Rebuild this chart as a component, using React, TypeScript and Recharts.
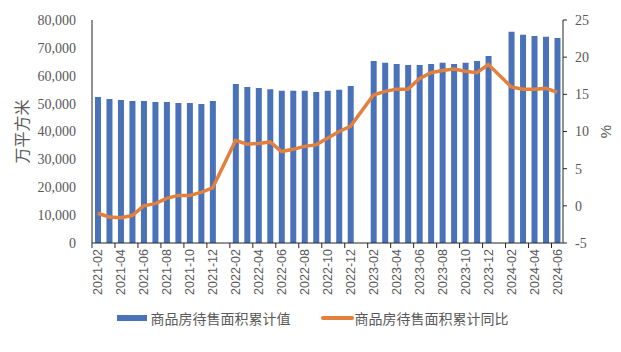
import { Bar, ComposedChart, Legend, Line, XAxis, YAxis } from 'recharts'

const MONTHS = [
  '2021-02', '2021-03', '2021-04', '2021-05', '2021-06', '2021-07', '2021-08', '2021-09', '2021-10', '2021-11', '2021-12',
  '2022-01', '2022-02', '2022-03', '2022-04', '2022-05', '2022-06', '2022-07', '2022-08', '2022-09', '2022-10', '2022-11', '2022-12',
  '2023-01', '2023-02', '2023-03', '2023-04', '2023-05', '2023-06', '2023-07', '2023-08', '2023-09', '2023-10', '2023-11', '2023-12',
  '2024-01', '2024-02', '2024-03', '2024-04', '2024-05', '2024-06',
]

// 商品房待售面积累计值（万平方米），1月无数据
const STOCK = [
  52400, 51700, 51300, 50900, 50900, 50600, 50600, 50200, 50200, 49900, 50900,
  null, 57000, 56000, 55600, 55200, 54600, 54600, 54600, 54200, 54600, 55000, 56300,
  null, 65300, 64700, 64200, 63900, 63900, 64200, 64700, 64200, 64700, 65300, 67100,
  null, 75800, 74700, 74300, 74000, 73500,
]

// 商品房待售面积累计同比（%）
const YOY = [
  -1.0, -1.5, -1.6, -1.3, 0.0, 0.3, 1.0, 1.4, 1.4, 1.8, 2.4,
  null, 8.8, 8.3, 8.4, 8.6, 7.3, 7.6, 8.0, 8.2, 9.1, 10.0, 10.7,
  null, 14.9, 15.4, 15.7, 15.7, 17.1, 17.9, 18.2, 18.4, 18.1, 17.9, 19.0,
  null, 16.0, 15.7, 15.7, 15.8, 15.3,
]

const LEFT_TICKS = [0, 10000, 20000, 30000, 40000, 50000, 60000, 70000, 80000]
const RIGHT_TICKS = [-5, 0, 5, 10, 15, 20, 25]

const data = MONTHS.map((m, i) => ({ month: m, stock: STOCK[i], yoy: YOY[i] }))

const BLUE = '#4A72B8'
const ORANGE = '#E2803D'
const TEXT = '#595959'
const AXIS = '#262626'
const HALF_BAND = 5.75

function MonthTick(props: any) {
  const { x, y, payload } = props
  return (
    <g transform={`translate(${x},${y})`}>
      <line x1={-HALF_BAND} y1={0} x2={-HALF_BAND} y2={5} stroke={AXIS} strokeWidth={1} />
      <text
        transform="rotate(-90)"
        x={-6}
        y={0}
        dy={4.5}
        textAnchor="end"
        fill={TEXT}
        fontSize={12.5}
        fontFamily="'Liberation Sans', Arial, sans-serif"
      >
        {payload.value}
      </text>
    </g>
  )
}

function ChartLegend() {
  const font = { fontSize: 14, color: TEXT, fontFamily: "'Noto Sans CJK SC', sans-serif" }
  return (
    <div style={{ display: 'flex', justifyContent: 'center', alignItems: 'center', paddingLeft: 4, ...font }}>
      <span style={{ display: 'inline-block', width: 30, height: 6, background: BLUE, marginRight: 4 }} />
      <span>商品房待售面积累计值</span>
      <span style={{ display: 'inline-block', width: 33, height: 4, background: ORANGE, borderRadius: 2, marginLeft: 30, marginRight: 1 }} />
      <span>商品房待售面积累计同比</span>
    </div>
  )
}

export default function App() {
  return (
    <ComposedChart
      width={605}
      height={336}
      data={data}
      margin={{ top: 12, right: 0, bottom: 6, left: 0 }}
      barCategoryGap="26%"
    >
      <XAxis
        dataKey="month"
        interval={1}
        tickLine={false}
        tickSize={0}
        tickMargin={0}
        tick={<MonthTick />}
        stroke={AXIS}
        height={65}
      />
      <YAxis
        yAxisId="left"
        domain={[0, 80000]}
        ticks={LEFT_TICKS}
        tickFormatter={(v: number) => v.toLocaleString('en-US')}
        tickLine={false}
        tickSize={0}
        tickMargin={16}
        width={84}
        stroke={AXIS}
        tick={{ fill: TEXT, fontSize: 14, fontFamily: "'Liberation Serif', 'Times New Roman', serif" }}
        label={{
          value: '万平方米',
          angle: -90,
          position: 'insideLeft',
          offset: 14,
          style: { fill: TEXT, fontSize: 16, fontFamily: "'Noto Sans CJK SC', sans-serif", textAnchor: 'middle' },
        }}
      />
      <YAxis
        yAxisId="right"
        orientation="right"
        domain={[-5, 25]}
        ticks={RIGHT_TICKS}
        tickSize={4}
        tickMargin={8}
        width={50}
        stroke={AXIS}
        tick={{ fill: TEXT, fontSize: 14, fontFamily: "'Liberation Serif', 'Times New Roman', serif" }}
        label={{
          value: '%',
          angle: -90,
          position: 'insideRight',
          offset: 7,
          style: { fill: TEXT, fontSize: 15, fontFamily: "'Liberation Sans', sans-serif", textAnchor: 'middle' },
        }}
      />
      <Legend verticalAlign="bottom" height={30} content={<ChartLegend />} />
      <Bar yAxisId="left" dataKey="stock" fill={BLUE} isAnimationActive={false} />
      <Line
        yAxisId="right"
        dataKey="yoy"
        stroke={ORANGE}
        strokeWidth={3.5}
        dot={false}
        connectNulls
        isAnimationActive={false}
      />
    </ComposedChart>
  )
}
